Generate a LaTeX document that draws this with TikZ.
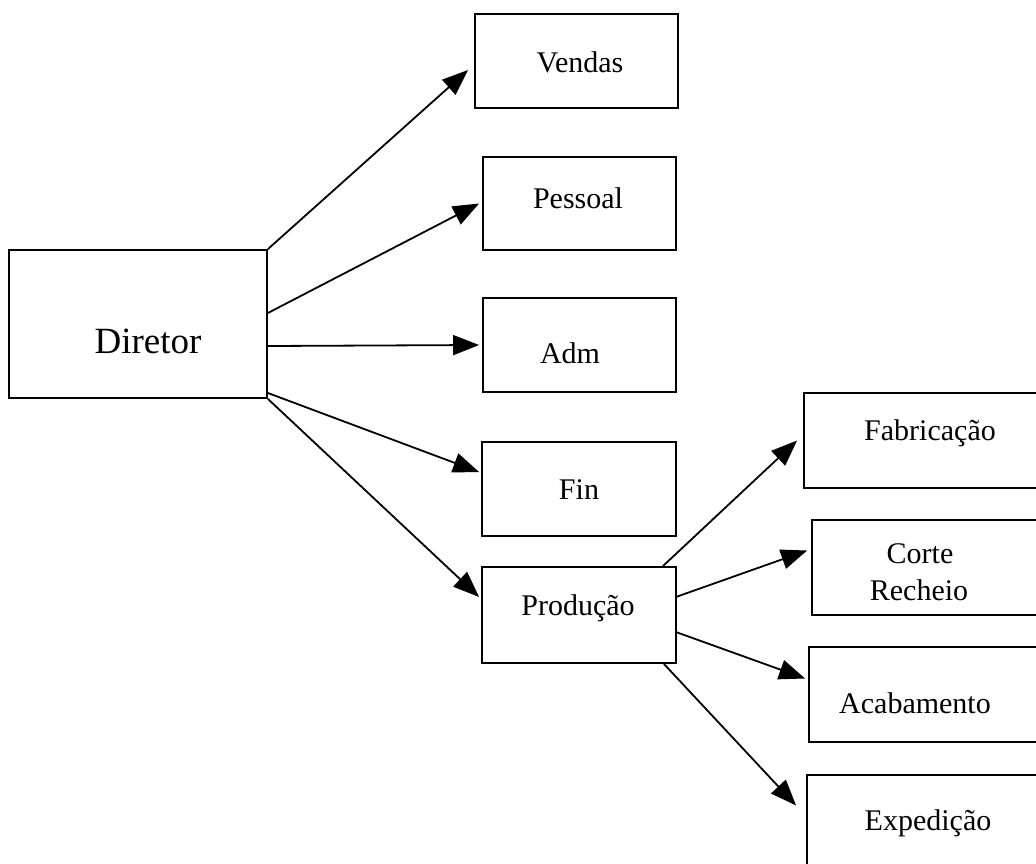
\documentclass[tikz,border=0pt]{standalone}
\usepackage{fontspec}
\setmainfont{Liberation Serif}
\usetikzlibrary{arrows.meta}
\begin{document}
\begin{tikzpicture}[x=1pt,y=-1pt,
  box/.style={draw,line width=1.8pt,inner sep=0pt,rectangle},
  lbl/.style={inner sep=0pt,anchor=base,font=\fontsize{30}{36}\selectfont},
  arr/.style={line width=1.8pt,-{Triangle[length=26pt,width=20pt]}}]
\useasboundingbox (0,0) rectangle (1036,863);
\clip (0,0) rectangle (1036,863);
% director box
\node[box,minimum width=258pt,minimum height=148pt] (diretor) at (138,324) {};
\node[lbl,font=\fontsize{37}{44}\selectfont] (diretorT) at (148,353) {Diretor};
% departments
\node[box,minimum width=203pt,minimum height=94pt] (vendas) at (576.5,61) {};
\node[lbl] (vendasT) at (580,72) {Vendas};
\node[box,minimum width=193pt,minimum height=93pt] (pessoal) at (579.5,203.5) {};
\node[lbl] (pessoalT) at (578,208) {Pessoal};
\node[box,minimum width=193pt,minimum height=94pt] (adm) at (579.5,345) {};
\node[lbl] (admT) at (570,363) {Adm};
\node[box,minimum width=194pt,minimum height=94pt] (fin) at (579,489) {};
\node[lbl] (finT) at (579,499) {Fin};
\node[box,minimum width=194pt,minimum height=96pt] (producao) at (579,615) {};
\node[lbl] (producaoT) at (578,615) {Produção};
% production sections
\node[box,minimum width=246pt,minimum height=95pt] (fabricacao) at (927,440.5) {};
\node[lbl] (fabricacaoT) at (930,440) {Fabricação};
\node[box,minimum width=238pt,minimum height=95pt] (corte) at (931,567.5) {};
\node[lbl] (corteT) at (920,563) {Corte};
\node[lbl] (recheioT) at (919,600) {Recheio};
\node[box,minimum width=241pt,minimum height=95pt] (acabamento) at (929.5,694.5) {};
\node[lbl] (acabamentoT) at (915,713) {Acabamento};
\node[box,minimum width=243pt,minimum height=95pt] (expedicao) at (928.5,822.5) {};
\node[lbl] (expedicaoT) at (928,830) {Expedição};
% connectors from the director
\draw[arr] (diretor.north east) -- ([xshift=-6pt,yshift=-9pt]vendas.west);
\draw[arr] ([yshift=11pt]diretor.east) -- ([xshift=-3pt]pessoal.west);
\draw[arr] ([yshift=-22pt]diretor.east) -- ([xshift=-3pt]adm.west);
\draw[arr] ([yshift=-69pt]diretor.east) -- ([xshift=-2pt,yshift=17pt]fin.west);
\draw[arr] (diretor.south east) -- ([xshift=-2pt,yshift=18pt]producao.west);
% connectors from production
\draw[arr] ([xshift=-14pt]producao.north east) -- ([xshift=-6pt]fabricacao.west);
\draw[arr] ([xshift=-1pt,yshift=18pt]producao.east) -- ([xshift=-4pt,yshift=17pt]corte.west);
\draw[arr] ([xshift=-1pt,yshift=-17pt]producao.east) -- ([xshift=-3pt,yshift=16pt]acabamento.west);
\draw[arr] ([xshift=-13pt]producao.south east) -- ([xshift=-10pt,yshift=17pt]expedicao.west);
\end{tikzpicture}
\end{document}
